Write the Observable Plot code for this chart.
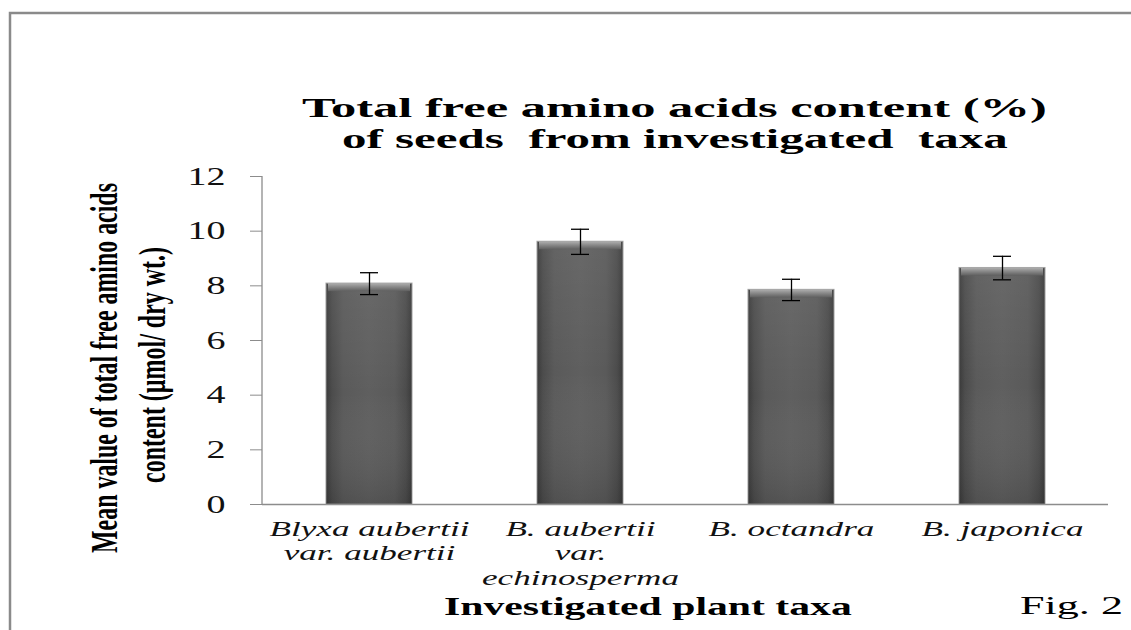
<!DOCTYPE html>
<html><head><meta charset="utf-8">
<script src="https://cdn.jsdelivr.net/npm/d3@7"></script>
<script src="https://cdn.jsdelivr.net/npm/@observablehq/plot@0.6"></script>
<style>
html,body{margin:0;padding:0;background:#fff;}
#wrap{position:relative;width:1131px;height:630px;overflow:hidden;background:#fff;}
#wrap > svg{position:absolute;left:0;top:0;}
</style></head><body><div id="wrap"></div>
<script>
// ---- data ----
const taxa = ["Blyxa aubertii var. aubertii", "B. aubertii var. echinosperma", "B. octandra", "B. japonica"];
const tickLabels = ["Blyxa aubertii\nvar. aubertii", "B. aubertii\nvar.\nechinosperma", "B. octandra", "B. japonica"];
const means = [8.08, 9.61, 7.85, 8.65];
const errors = [0.40, 0.46, 0.39, 0.43];
const yTicks = [0, 2, 4, 6, 8, 10, 12];
const titleLines = ["Total free amino acids content (%)", "of seeds  from investigated  taxa"];
const yLabelLines = ["Mean value of total free amino acids", "content (\u00b5mol/ dry wt.)"];
const xLabel = "Investigated plant taxa";
const figLabel = "Fig. 2";

const data = taxa.map((t, i) => ({taxon: t, mean: means[i], err: errors[i]}));
const labelOf = new Map(taxa.map((t, i) => [t, tickLabels[i]]));

const AXIS = "#8c8c8c";
const SERIF = "'Liberation Serif', 'Times New Roman', serif";

const plot = Plot.plot({
  width: 1131, height: 630,
  marginLeft: 262, marginRight: 23, marginTop: 176, marginBottom: 126,
  style: {background: "transparent", overflow: "visible"},
  x: {domain: taxa, paddingInner: 0.593, paddingOuter: 0.2965, align: 0.5},
  y: {domain: [0, 12]},
  marks: [
    Plot.ruleY([0], {stroke: AXIS, strokeWidth: 1.3}),
    Plot.axisY({ticks: yTicks, tickSize: 12, tickPadding: 25, stroke: AXIS, fill: "#111",
      fontSize: 25, fontFamily: SERIF, label: null, tickFormat: d => String(d)}),
    Plot.axisX({tickSize: 0, tickPadding: 14, fill: "#111", fontSize: 22, fontStyle: "italic",
      fontFamily: SERIF, lineHeight: 1.11, label: null, tickFormat: d => labelOf.get(d)}),
    Plot.barY(data, {x: "taxon", y: "mean", fill: "url(#barH)", stroke: "#9a9a9a", strokeWidth: 1.2, strokeOpacity: 0.8}),
    Plot.barY(data, {x: "taxon", y: "mean", fill: "url(#barV)"}),
    Plot.barY(data, {x: "taxon", y1: "mean", y2: "mean", insetBottom: -8, insetLeft: 2, insetRight: 2, fill: "url(#bevel)"}),
    Plot.ruleX(data, {x: "taxon", y1: d => d.mean - d.err, y2: d => d.mean + d.err, stroke: "#000", strokeWidth: 1.3}),
    Plot.tickY(data, {x: "taxon", y: d => d.mean - d.err, insetLeft: 34, insetRight: 34, stroke: "#000", strokeWidth: 1.3}),
    Plot.tickY(data, {x: "taxon", y: d => d.mean + d.err, insetLeft: 34, insetRight: 34, stroke: "#000", strokeWidth: 1.3})
  ]
});

const wrap = document.getElementById("wrap");
wrap.appendChild(plot);
const svg = d3.select(plot);

// gradients
const defs = svg.insert("defs", ":first-child");
const gH = defs.append("linearGradient").attr("id", "barH").attr("x1", 0).attr("x2", 1).attr("y1", 0).attr("y2", 0);
[[0, "#3a3a3a"], [0.07, "#4c4c4c"], [0.2, "#5a5a5a"], [0.5, "#5f5f5f"], [0.8, "#5a5a5a"], [0.93, "#4c4c4c"], [1, "#3a3a3a"]]
  .forEach(([o, c]) => gH.append("stop").attr("offset", o).attr("stop-color", c));
const gV = defs.append("linearGradient").attr("id", "barV").attr("x1", 0).attr("x2", 0).attr("y1", 0).attr("y2", 1);
[[0, "#ffffff", 0.06], [0.5, "#ffffff", 0.0], [1, "#000000", 0.12]]
  .forEach(([o, c, a]) => gV.append("stop").attr("offset", o).attr("stop-color", c).attr("stop-opacity", a));
const gB = defs.append("linearGradient").attr("id", "bevel").attr("x1", 0).attr("x2", 0).attr("y1", 0).attr("y2", 1);
[[0, "#b0b0b0"], [0.45, "#8a8a8a"], [1, "#5f5f5f"]]
  .forEach(([o, c]) => gB.append("stop").attr("offset", o).attr("stop-color", c));

// vertical axis line along the y scale range
const xs = plot.scale("x"), ys = plot.scale("y");
svg.append("line").attr("x1", xs.range[0]).attr("x2", xs.range[0])
  .attr("y1", ys.range[0]).attr("y2", ys.range[1]).attr("stroke", AXIS).attr("stroke-width", 1.3);

// widen tick labels like the stretched original
function scaleText(el, s) {
  const x = +el.getAttribute("x") || 0, y = +el.getAttribute("y") || 0;
  let t = el.getAttribute("transform") || "";
  if (x || y) { t += ` translate(${x},${y})`; el.removeAttribute("x"); if (el.getAttribute("y") && !/em/.test(el.getAttribute("y"))) el.removeAttribute("y"); }
  el.setAttribute("transform", t + ` scale(${s},1)`);
}
const yt = svg.selectAll('g[aria-label="y-axis tick label"] text').nodes();
if (yt.length) {
  const w12 = yt.find(n => n.textContent === "12");
  const s = 38 / (w12 ? w12.getBBox().width : 25);
  yt.forEach(n => scaleText(n, s));
}
const xt = svg.selectAll('g[aria-label="x-axis tick label"] text').nodes();
if (xt.length) {
  const s = 200 / xt[0].getBBox().width;
  xt.forEach(n => scaleText(n, s));
}

// overlay: frame, titles, axis labels
const ov = d3.select(wrap).append("svg").attr("width", 1131).attr("height", 630)
  .style("pointer-events", "none");
ov.append("path").attr("d", "M10,630V13H1131").attr("fill", "none").attr("stroke", "#8a8a8a").attr("stroke-width", 2.5);

function fit(str, {x, y, width, size, weight = "normal", style = "normal", anchor = "start", rotate = 0}) {
  const t = ov.append("text").text(str)
    .attr("font-family", SERIF).attr("font-size", size).attr("font-weight", weight)
    .attr("font-style", style).attr("text-anchor", anchor).attr("fill", "#000")
    .style("white-space", "pre");
  const w = t.node().getComputedTextLength();
  const s = width / w;
  t.attr("transform", `translate(${x},${y}) rotate(${rotate}) scale(${s},1)`);
  return t;
}
fit(titleLines[0], {x: 302, y: 117, width: 745, size: 28, weight: "bold"});
fit(titleLines[1], {x: 342, y: 148, width: 666, size: 28, weight: "bold"});
fit(yLabelLines[0], {x: 117, y: 368, width: 370, size: 38, weight: "bold", anchor: "middle", rotate: -90});
fit(yLabelLines[1], {x: 165, y: 365, width: 236, size: 38, weight: "bold", anchor: "middle", rotate: -90});
fit(xLabel, {x: 444, y: 615, width: 408, size: 25, weight: "bold"});
fit(figLabel, {x: 1020, y: 614, width: 103, size: 25});
</script>
</body></html>
